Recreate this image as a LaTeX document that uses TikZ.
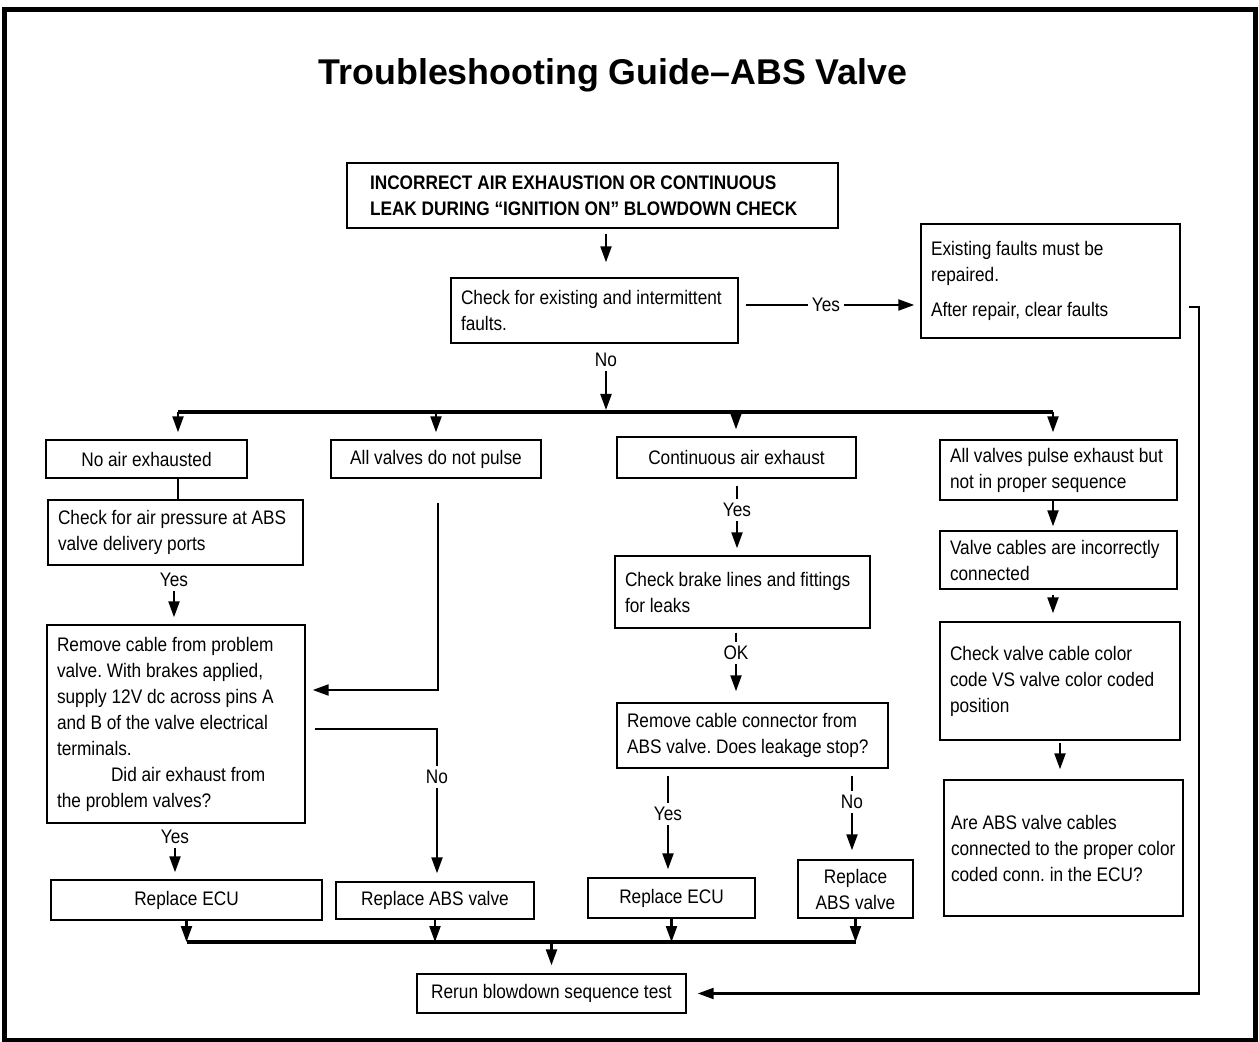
\documentclass[tikz,border=0pt]{standalone}
\usepackage{fontspec}
\setmainfont{Liberation Sans}[FakeStretch=0.88]
\newfontfamily\titlefont{Liberation Sans}
\frenchspacing
\usetikzlibrary{positioning,arrows.meta}
\tikzset{
     arrow/.style={-{Triangle[length=8pt,width=5.5pt]}, line width=1.1pt},
     link/.style={line width=1.1pt},
     bus/.style={line width=1.6pt},
     flowbox/.style={draw, line width=0.7pt, inner xsep=5pt, inner ysep=2pt, align=flush left},
     ans/.style={inner sep=2pt}
     }

\begin{document}
\begin{tikzpicture}[x=0.5pt, y=-0.5pt, font=\fontsize{9.8}{13}\selectfont]
                    \useasboundingbox (0,0) rectangle (1259,1042);
                    % Frame and title
                    \draw[line width=2.5pt] (4,10) rectangle (1255,1040);
                    \node (title) at (613,75) {\titlefont\bfseries\fontsize{17.9}{21}\selectfont Troubleshooting Guide–ABS Valve};
                    % Place nodes
                    \node[flowbox, inner xsep=11.5pt, text width=222.5pt, minimum height=32.5pt, font=\fontsize{9.8}{13}\selectfont\bfseries] (startBox) at (592.5,195.5) {INCORRECT AIR EXHAUSTION OR CONTINUOUS\\LEAK DURING “IGNITION ON” BLOWDOWN CHECK};
                    \node[flowbox, text width=133.5pt, minimum height=32.5pt] (checkFaults) at (594.5,310.5) {Check for existing and intermittent\\faults.};
                    \node[flowbox, text width=119.5pt, minimum height=57pt] (repairFaults) at (1050.5,281) {Existing faults must be\\repaired.\\[4.5pt]After repair, clear faults};
                    \node[flowbox, align=flush center, text width=90.5pt, minimum height=19pt] (noAir) at (146.5,459) {No air exhausted};
                    \node[flowbox, align=flush center, text width=95pt, minimum height=19pt] (notPulse) at (436,459) {All valves do not pulse};
                    \node[flowbox, align=flush center, text width=109.5pt, minimum height=20.5pt] (contAir) at (736.5,457.5) {Continuous air exhaust};
                    \node[flowbox, text width=108.5pt, minimum height=30pt] (wrongSeq) at (1058.5,470) {All valves pulse exhaust but\\not in proper sequence};
                    \node[flowbox, text width=117.5pt, minimum height=32.5pt] (airPressure) at (175.5,532.5) {Check for air pressure at ABS\\valve delivery ports};
                    \node[flowbox, text width=119pt, minimum height=99pt] (removeCable) at (176,724) {Remove cable from problem\\valve. With brakes applied,\\supply 12V dc across pins A\\and B of the valve electrical\\terminals.\\\hspace*{27pt}Did air exhaust from\\the problem valves?};
                    \node[flowbox, text width=117.5pt, minimum height=36pt] (brakeLines) at (742.5,592) {Check brake lines and fittings\\for leaks};
                    \node[flowbox, text width=125.5pt, minimum height=32.5pt] (removeConn) at (752.5,735.5) {Remove cable connector from\\ABS valve. Does leakage stop?};
                    \node[flowbox, text width=108.5pt, minimum height=29pt] (cablesWrong) at (1058.5,560) {Valve cables are incorrectly\\connected};
                    \node[flowbox, text width=110pt, minimum height=59pt] (colorCode) at (1060,681) {Check valve cable color\\code VS valve color coded\\position};
                    \node[flowbox, inner xsep=3.5pt, text width=112.5pt, minimum height=68pt] (cablesECU) at (1063.5,848) {Are ABS valve cables\\connected to the proper color\\coded conn. in the ECU?};
                    \node[flowbox, align=flush center, text width=125.5pt, minimum height=20pt] (ecuLeft) at (186.5,900) {Replace ECU};
                    \node[flowbox, align=flush center, text width=89pt, minimum height=18.5pt] (absLeft) at (435,900.5) {Replace ABS valve};
                    \node[flowbox, align=flush center, text width=73.5pt, minimum height=20pt] (ecuMid) at (671.5,898) {Replace ECU};
                    \node[flowbox, align=flush center, text width=47.5pt, minimum height=29pt] (absRight) at (855.5,889) {Replace\\ABS valve};
                    \node[flowbox, align=flush center, text width=124.5pt, minimum height=19.5pt] (rerun) at (551.5,993.5) {Rerun blowdown sequence test};
                    % Answer labels
                    \node[ans] (yesFaults) at (826,305) {Yes};
                    \node[ans] (noFaults) at (606,360) {No};
                    \node[ans] (yesPressure) at (174,580) {Yes};
                    \node[ans] (yesRemove) at (175,837) {Yes};
                    \node[ans] (noRemove) at (437,777) {No};
                    \node[ans] (yesCont) at (737,510) {Yes};
                    \node[ans] (okBrake) at (736,653) {OK};
                    \node[ans] (yesConn) at (668,814) {Yes};
                    \node[ans] (noConn) at (852,802) {No};
                    % Turning points
                    \coordinate (colA) at (178,412);
                    \coordinate (colB) at (436,412);
                    \coordinate (colC) at (736,412);
                    \coordinate (colD) at (1053,412);
                    \coordinate (loopTurn) at (1199,307);
                    \coordinate (pulseIn) at (438,690);
                    \coordinate (noOut) at (437,729);
                    \coordinate (busLow) at (548,942);
                    % Draw edges
                    \draw[arrow, shorten <=2.5pt, shorten >=7.5pt] (startBox.south -| noFaults) -- (checkFaults.north -| noFaults);
                    \draw[link, shorten <=3.5pt] (checkFaults.east |- yesFaults) -- (yesFaults.west);
                    \draw[arrow, shorten >=3pt] (yesFaults.east) -- (repairFaults.west |- yesFaults);
                    \draw[arrow, shorten <=4pt, shorten >=5.5pt] (repairFaults.east |- loopTurn) -- (loopTurn) |- (rerun.east);
                    \draw[arrow, shorten >=1pt] (noFaults.south) -- (noFaults |- colA);
                    \draw[bus] (colA) -- (colD);
                    \foreach \col/\nd in {colA/noAir, colB/notPulse, colC/contAir, colD/wrongSeq}
                        \draw[arrow, shorten >=3.5pt] (\col) -- (\nd.north -| \col);
                    \draw[link] (noAir.south -| colA) -- (airPressure.north -| colA);
                    \draw[arrow, shorten >=3.5pt] (yesPressure.south) -- (removeCable.north -| yesPressure);
                    \draw[arrow, shorten <=12pt, shorten >=3.5pt] (notPulse.south -| pulseIn) |- (removeCable.east |- pulseIn);
                    \draw[link, shorten <=4.5pt] (removeCable.east |- noOut) -| (noRemove.north);
                    \draw[arrow, shorten >=4pt] (noRemove.south) -- (absLeft.north -| noRemove);
                    \draw[arrow, shorten >=3.5pt] (yesRemove.south) -- (ecuLeft.north -| yesRemove);
                    \draw[link, shorten <=3.5pt] (contAir.south -| yesCont) -- (yesCont.north);
                    \draw[arrow, shorten >=3.5pt] (yesCont.south) -- (brakeLines.north -| yesCont);
                    \draw[link, shorten <=2pt] (brakeLines.south -| okBrake) -- (okBrake.north);
                    \draw[arrow, shorten >=5.5pt] (okBrake.south) -- (removeConn.north -| okBrake);
                    \draw[link, shorten <=3.5pt] (removeConn.south -| yesConn) -- (yesConn.north);
                    \draw[arrow, shorten >=4pt] (yesConn.south) -- (ecuMid.north -| yesConn);
                    \draw[link, shorten <=3.5pt] (removeConn.south -| noConn) -- (noConn.north);
                    \draw[arrow, shorten >=4.5pt] (noConn.south) -- (absRight.north -| noConn);
                    \draw[arrow, shorten >=2pt] (wrongSeq.south -| colD) -- (cablesWrong.north -| colD);
                    \draw[arrow, shorten <=2.5pt, shorten >=4pt] (cablesWrong.south -| colD) -- (colorCode.north -| colD);
                    \draw[arrow, shorten <=1pt, shorten >=5pt] (colorCode.south) -- (cablesECU.north -| colorCode.south);
                    \foreach \nd in {ecuLeft, absLeft, ecuMid, absRight}
                        \draw[arrow] (\nd.south) -- (\nd.south |- busLow);
                    \draw[bus] (ecuLeft.south |- busLow) -- (absRight.south |- busLow);
                    \draw[arrow, shorten >=4pt] (rerun.north |- busLow) -- (rerun.north);
                \end{tikzpicture}
\end{document}
